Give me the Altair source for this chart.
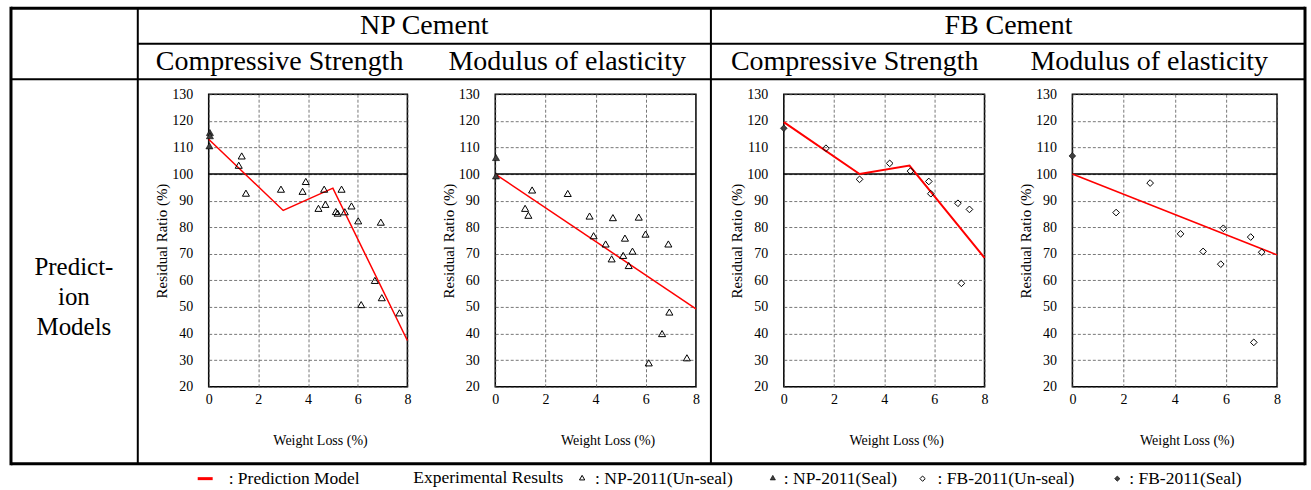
import altair as alt
import pandas as pd

FONT = "Liberation Serif"

# ---------------- data ----------------
# NP Cement - Compressive Strength
np_cs_unseal_x = [1.33, 1.21, 1.50, 2.91, 3.78, 3.91, 4.42, 4.65, 4.70, 5.12, 5.19, 5.35, 5.48, 5.75, 6.02, 6.93, 6.69, 6.14, 6.97, 7.68]
np_cs_unseal_y = [106.8, 103.3, 92.8, 94.3, 93.5, 97.2, 87.1, 94.3, 88.6, 85.9, 85.3, 94.3, 85.8, 88.0, 82.4, 81.9, 60.0, 50.9, 53.5, 47.8]
np_cs_seal_x = [0.05, 0.05, 0.03]
np_cs_seal_y = [115.6, 114.4, 110.6]
np_cs_model_x = [0, 3.0, 5.0, 8]
np_cs_model_y = [113.1, 86.3, 94.7, 37.4]

# NP Cement - Modulus of elasticity
np_me_unseal_x = [1.47, 1.19, 1.32, 2.89, 3.76, 3.92, 4.40, 4.64, 4.69, 5.10, 5.17, 5.32, 5.47, 5.72, 5.99, 6.90, 6.94, 6.65, 6.12, 7.64]
np_me_unseal_y = [94.0, 87.1, 84.5, 92.7, 84.2, 76.8, 73.7, 68.1, 83.6, 69.4, 75.9, 65.6, 71.0, 83.8, 77.4, 73.7, 48.1, 40.0, 29.0, 30.9]
np_me_seal_x = [0.03, 0.03]
np_me_seal_y = [106.2, 99.3]
np_me_model_x = [0, 8]
np_me_model_y = [100.0, 49.3]

# FB Cement - Compressive Strength
fb_cs_unseal_x = [1.68, 3.02, 4.22, 5.05, 5.78, 5.86, 6.94, 7.40, 7.08]
fb_cs_unseal_y = [109.7, 98.0, 104.0, 101.1, 97.2, 92.6, 89.0, 86.7, 58.9]
fb_cs_seal_x = [0.0]
fb_cs_seal_y = [117.2]
fb_cs_model_x = [0, 3.02, 5.01, 8]
fb_cs_model_y = [119.5, 100.0, 103.2, 68.5]

# FB Cement - Modulus of elasticity
fb_me_unseal_x = [1.71, 3.04, 4.23, 5.11, 5.80, 5.90, 6.97, 7.40, 7.09]
fb_me_unseal_y = [85.5, 96.6, 77.5, 70.9, 66.1, 79.6, 76.3, 70.6, 36.7]
fb_me_seal_x = [0.0]
fb_me_seal_y = [106.8]
fb_me_model_x = [0, 8]
fb_me_model_y = [100.0, 69.6]

x_ticks = [0, 2, 4, 6, 8]
y_ticks = [20, 30, 40, 50, 60, 70, 80, 90, 100, 110, 120, 130]

cement_titles = ["NP Cement", "FB Cement"]
property_titles = ["Compressive Strength", "Modulus of elasticity",
                   "Compressive Strength", "Modulus of elasticity"]
row_title = ["Predict-", "ion", "Models"]
legend_texts = [": Prediction Model", "Experimental Results", ": NP-2011(Un-seal)",
                ": NP-2011(Seal)", ": FB-2011(Un-seal)", ": FB-2011(Seal)"]

# ---------------- layout ----------------
OX, OY = 208, 93          # page position of panel-1 plot origin
PH = 293
PW = [199, 201, 201, 205]
GAP = 88
PAGE_W, PAGE_H = 1311, 490
HEAD_FS = 28
ROW_FS = 25
LEG_FS = 17.5

def rx(v):
    return v - OX

def ry(v):
    return v - OY

one = pd.DataFrame({"k": [0]})

def rule(x1, x2, y1, y2, w, color="black"):
    return alt.Chart(one).mark_rule(color=color, strokeWidth=w).encode(
        x=alt.value(rx(x1)), x2=alt.value(rx(x2)),
        y=alt.value(ry(y1)), y2=alt.value(ry(y2)))

def label(txt, x, y, size, align="center"):
    return alt.Chart(one).mark_text(font=FONT, fontSize=size, align=align,
                                    baseline="middle", color="black").encode(
        x=alt.value(rx(x)), y=alt.value(ry(y)), text=alt.value(txt))

def symbol(shape, x, y, filled, size=30):
    if filled:
        m = alt.Chart(one).mark_point(shape=shape, filled=True, fill="#404040",
                                      stroke="black", strokeWidth=0.6, size=size, opacity=1)
    else:
        m = alt.Chart(one).mark_point(shape=shape, filled=False, color="black",
                                      strokeWidth=1, size=size, opacity=1)
    return m.encode(x=alt.value(rx(x)), y=alt.value(ry(y)))

# invisible rect that fixes the page extent
extent = alt.Chart(one).mark_rect(fill="white", opacity=0).encode(
    x=alt.value(rx(0)), x2=alt.value(rx(PAGE_W)),
    y=alt.value(ry(0)), y2=alt.value(ry(PAGE_H)))

TOP, BOT, LEFT, RIGHT = 7, 463, 10, 1306
decor = [
    rule(LEFT, RIGHT, TOP, TOP, 3),
    rule(LEFT, RIGHT, BOT, BOT, 3),
    rule(LEFT, LEFT, TOP - 1.5, BOT + 1.5, 3),
    rule(RIGHT, RIGHT, TOP - 1.5, BOT + 1.5, 3),
    rule(137, 137, TOP, BOT, 2),
    rule(711, 711, TOP, BOT, 2),
    rule(137, RIGHT, 42.5, 42.5, 2),
    rule(LEFT, RIGHT, 78, 78, 2),
    label(cement_titles[0], 424, 25, HEAD_FS),
    label(cement_titles[1], 1009, 25, HEAD_FS),
    label(property_titles[0], 279, 61, HEAD_FS),
    label(property_titles[1], 567, 61, HEAD_FS),
    label(property_titles[2], 855, 61, HEAD_FS),
    label(property_titles[3], 1150, 61, HEAD_FS),
    label(row_title[0], 73, 266, ROW_FS),
    label(row_title[1], 73, 296, ROW_FS),
    label(row_title[2], 73, 326, ROW_FS),
    # legend
    rule(197, 212, 478, 478, 3, color="#ff0000"),
    label(legend_texts[0], 228, 478, LEG_FS, "left"),
    label(legend_texts[1], 413, 477, LEG_FS, "left"),
    symbol("triangle-up", 582, 477, False, 28),
    label(legend_texts[2], 595, 478, LEG_FS, "left"),
    symbol("triangle-up", 773, 477, True, 28),
    label(legend_texts[3], 784, 478, LEG_FS, "left"),
    symbol("diamond", 923, 478, False, 28),
    label(legend_texts[4], 938, 478, LEG_FS, "left"),
    symbol("diamond", 1118, 478, True, 28),
    label(legend_texts[5], 1130, 478, LEG_FS, "left"),
]


def panel(w, ux, uy, sx, sy, mx, my, shape, ytitle, lw, msize):
    xs = alt.Scale(domain=[0, 8], nice=False, zero=False)
    ys = alt.Scale(domain=[20, 130], nice=False, zero=False)
    xax = alt.Axis(values=x_ticks, title="Weight Loss (%)", titleX=w / 2 + 12,
                   titlePadding=27, labelPadding=6)
    yax = alt.Axis(values=y_ticks, title=ytitle, labelPadding=16, titlePadding=2,
                   titleFontSize=15)
    X = alt.X("x:Q", scale=xs, axis=xax)
    Y = alt.Y("y:Q", scale=ys, axis=yax)
    ref = alt.Chart(pd.DataFrame({"y": [100]})).mark_rule(
        color="black", strokeWidth=1.5).encode(y=Y)
    line = alt.Chart(pd.DataFrame({"x": mx, "y": my})).mark_line(
        color="#ff0000", strokeWidth=lw).encode(x=X, y=Y)
    un = alt.Chart(pd.DataFrame({"x": ux, "y": uy})).mark_point(
        shape=shape, filled=False, color="black", strokeWidth=1, size=msize,
        opacity=1).encode(x=X, y=Y)
    se = alt.Chart(pd.DataFrame({"x": sx, "y": sy})).mark_point(
        shape=shape, filled=True, fill="#404040", stroke="black", strokeWidth=0.6,
        size=msize, opacity=1).encode(x=X, y=Y)
    return [ref, line, un, se]


p1 = panel(PW[0], np_cs_unseal_x, np_cs_unseal_y, np_cs_seal_x, np_cs_seal_y,
           np_cs_model_x, np_cs_model_y, "triangle-up", "Residual Ratio (%)", 1.5, 50)
p2 = panel(PW[1], np_me_unseal_x, np_me_unseal_y, np_me_seal_x, np_me_seal_y,
           np_me_model_x, np_me_model_y, "triangle-up", "Residual Ratio (%)", 1.5, 50)
p3 = panel(PW[2], fb_cs_unseal_x, fb_cs_unseal_y, fb_cs_seal_x, fb_cs_seal_y,
           fb_cs_model_x, fb_cs_model_y, "diamond", "Residual Ratio  (%)", 2, 45)
p4 = panel(PW[3], fb_me_unseal_x, fb_me_unseal_y, fb_me_seal_x, fb_me_seal_y,
           fb_me_model_x, fb_me_model_y, "diamond", "Residual Ratio (%)", 1.5, 45)

c1 = alt.layer(extent, *decor, *p1).properties(width=PW[0], height=PH)
c2 = alt.layer(*p2).properties(width=PW[1], height=PH)
c3 = alt.layer(*p3).properties(width=PW[2], height=PH)
c4 = alt.layer(*p4).properties(width=PW[3], height=PH)

chart = alt.hconcat(c1, c2, c3, c4, spacing=GAP, bounds="flush").properties(
    padding=0
).configure_view(
    stroke="black", strokeWidth=1.5
).configure_axis(
    labelFont=FONT, labelFontSize=14, labelColor="black",
    titleFont=FONT, titleFontSize=14, titleFontWeight="normal", titleColor="black",
    grid=True, gridColor="#555555", gridDash=[3, 2], gridWidth=0.8,
    domain=False, ticks=False, tickSize=0, labelFlush=False, labelOverlap=False
)

chart.save("out.html", embed_options={"renderer": "svg", "actions": False})
